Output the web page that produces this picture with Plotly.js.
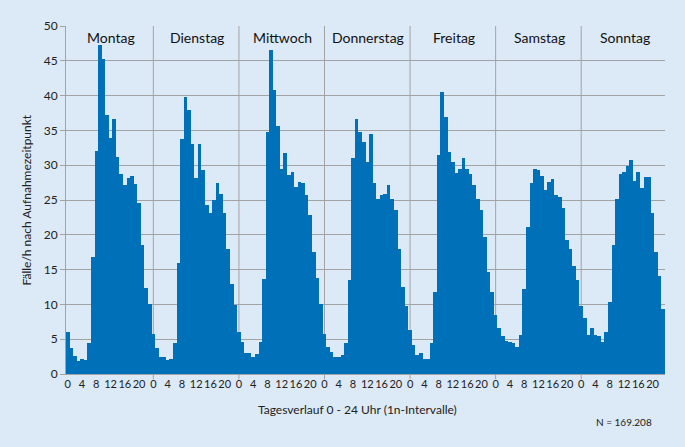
<!DOCTYPE html>
<html>
<head>
<meta charset="utf-8">
<script src="https://cdn.plot.ly/plotly-3.0.1.min.js"></script>
<style>html,body{margin:0;padding:0;background:#dce9f6;}#chart{width:685px;height:447px;}</style>
</head>
<body>
<div id="chart"></div>
<script>
const days = ['Montag','Dienstag','Mittwoch','Donnerstag','Freitag','Samstag','Sonntag'];
const hourTicks = [0, 4, 8, 12, 16, 20];
const montag     = [6.0, 3.8, 2.6, 1.8, 2.2, 2.0, 4.4, 16.8, 32.0, 47.2, 45.2, 37.2, 33.9, 36.7, 31.2, 28.7, 27.2, 28.1, 28.5, 27.3, 24.5, 18.5, 12.4, 10.0];
const dienstag   = [5.8, 3.7, 2.5, 2.5, 2.0, 2.2, 4.4, 15.9, 33.8, 39.8, 37.9, 33.0, 28.2, 33.1, 29.3, 24.3, 23.1, 25.0, 27.4, 25.9, 23.1, 18.0, 13.0, 9.9];
const mittwoch   = [6.1, 4.6, 3.0, 3.0, 2.5, 2.9, 4.6, 13.7, 34.8, 46.5, 40.8, 35.7, 29.5, 31.7, 28.6, 29.0, 26.9, 27.6, 27.4, 25.7, 22.8, 17.6, 13.8, 10.1];
const donnerstag = [5.8, 3.9, 3.2, 2.5, 2.5, 2.7, 4.4, 13.5, 31.0, 36.7, 34.8, 33.3, 30.5, 34.5, 27.4, 25.2, 25.7, 25.9, 27.1, 25.2, 23.5, 18.0, 12.5, 9.7];
const freitag    = [6.3, 4.2, 2.7, 3.0, 2.2, 2.2, 4.4, 11.8, 31.4, 40.5, 36.9, 31.9, 30.5, 28.9, 29.5, 31.0, 29.5, 28.8, 27.1, 25.2, 23.5, 19.7, 14.7, 11.8];
const samstag    = [8.5, 6.6, 5.4, 4.7, 4.6, 4.4, 3.9, 5.6, 12.2, 21.1, 27.4, 29.5, 29.3, 28.4, 26.4, 27.6, 28.0, 25.7, 25.5, 23.8, 19.3, 18.0, 15.5, 13.5];
const sonntag    = [9.7, 8.0, 5.6, 6.6, 5.6, 5.4, 4.6, 6.1, 10.4, 18.5, 25.1, 28.7, 29.0, 29.9, 30.7, 27.8, 29.0, 26.7, 28.3, 28.3, 23.2, 17.5, 14.1, 9.3];
const series = [montag, dienstag, mittwoch, donnerstag, freitag, samstag, sonntag];
const yTitle = 'Fälle/h nach Aufnahmezeitpunkt';
const xTitle = 'Tagesverlauf 0 - 24 Uhr (1n-Intervalle)';
const nText = 'N = 169.208';

const xs = [], ys = [];
series.forEach((arr, d) => arr.forEach((v, h) => { xs.push(d * 24 + h); ys.push(v); }));
const tickvals = [], ticktext = [];
days.forEach((_, d) => hourTicks.forEach(h => { tickvals.push(d * 24 + h); ticktext.push(String(h)); }));

const grid = '#a3a3a3';
const font = 'Lato, "Open Sans", sans-serif';
const shapes = [];
for (let d = 1; d < days.length; d++) {
  shapes.push({type: 'line', xref: 'x', yref: 'paper', x0: d * 24, x1: d * 24, y0: -0.015, y1: 1,
    line: {color: grid, width: 1}, layer: 'below'});
}
const annotations = days.map((name, d) => ({
  text: name, x: d * 24 + 12.2, y: 48.4, xref: 'x', yref: 'y', showarrow: false,
  font: {family: font, size: 14, color: '#111'}, xanchor: 'center', yanchor: 'middle'
}));
annotations.push({text: yTitle, xref: 'paper', yref: 'paper', x: -0.066, y: 0.5, textangle: -90,
  showarrow: false, xanchor: 'center', yanchor: 'middle', font: {family: font, size: 12, color: '#222'}});
annotations.push({text: xTitle, xref: 'paper', yref: 'paper', x: 0.486, y: -0.103,
  showarrow: false, xanchor: 'center', yanchor: 'middle', font: {family: font, size: 12, color: '#222'}});
annotations.push({text: nText, xref: 'paper', yref: 'paper', x: 0.931, y: -0.138,
  showarrow: false, xanchor: 'center', yanchor: 'middle', font: {family: font, size: 10, color: '#222'}});

Plotly.newPlot('chart', [{
  type: 'bar', x: xs, y: ys, width: 1, marker: {color: '#0070b8', line: {width: 0}},
  hoverinfo: 'y'
}], {
  width: 685, height: 447,
  paper_bgcolor: '#dce9f6', plot_bgcolor: '#dce9f6',
  margin: {l: 66, r: 20, t: 26, b: 73, pad: 0},
  bargap: 0, showlegend: false,
  font: {family: font, color: '#222'},
  xaxis: {range: [-0.5, 167.5], tickvals: tickvals, ticktext: ticktext, tickangle: 0,
    showgrid: false, zeroline: false, showline: true, linecolor: grid, linewidth: 1,
    ticks: '', tickfont: {family: font, size: 11, color: '#222'}, fixedrange: true},
  yaxis: {range: [0, 50], dtick: 5, tick0: 0, showgrid: true, gridcolor: grid, gridwidth: 1,
    zeroline: false, showline: true, linecolor: grid, linewidth: 1, ticks: 'outside', ticklen: 5,
    tickcolor: grid, tickfont: {family: font, size: 12, color: '#222'}, fixedrange: true},
  shapes: shapes, annotations: annotations
}, {displayModeBar: false, staticPlot: true});
</script>
</body>
</html>
